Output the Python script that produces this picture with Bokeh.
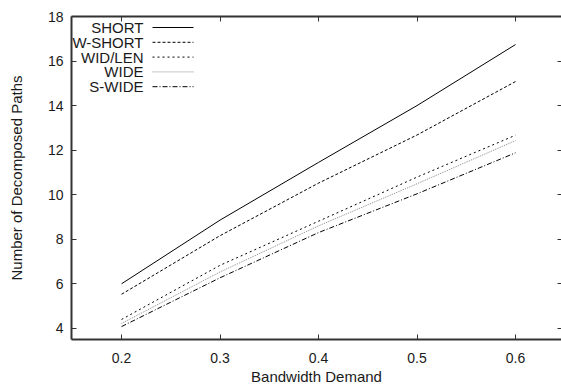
from bokeh.plotting import figure
from bokeh.models import LinearAxis, Label, Arrow, Range1d, FixedTicker, CustomJSTickFormatter
from bokeh.embed import file_html
from bokeh.resources import INLINE

# ---- data ----
bandwidth = [0.2, 0.3, 0.4, 0.5, 0.6]
short = [6.0, 8.86, 11.45, 14.0, 16.74]
w_short = [5.53, 8.16, 10.52, 12.68, 15.08]
wid_len = [4.4, 6.83, 8.81, 10.79, 12.67]
wide = [4.22, 6.53, 8.6, 10.49, 12.43]
s_wide = [4.08, 6.27, 8.30, 10.04, 11.88]

series_names = ["SHORT", "W-SHORT", "WID/LEN", "WIDE", "S-WIDE"]
x_ticks = [0.2, 0.3, 0.4, 0.5, 0.6]
y_ticks = [4, 6, 8, 10, 12, 14, 16, 18]

FONT = "Liberation Sans"
TXT = "#1a1a1a"

p = figure(width=561, height=387, output_backend="svg", toolbar_location=None,
           x_range=Range1d(0.1492, 0.6467), y_range=Range1d(3.5, 18.0),
           min_border_left=71, min_border_right=0, min_border_top=16, min_border_bottom=45,
           x_axis_label="Bandwidth Demand", y_axis_label="Number of Decomposed Paths")
p.outline_line_color = None
p.grid.visible = False
p.background_fill_color = "white"
p.border_fill_color = "white"

for ax in (p.xaxis[0], p.yaxis[0]):
    ax.axis_line_width = 2
    ax.axis_line_color = "#333333"
    ax.major_tick_in = 5
    ax.major_tick_out = 0
    ax.minor_tick_in = 0
    ax.minor_tick_out = 0
    ax.major_tick_line_color = "#333333"
    ax.major_label_text_font = FONT
    ax.major_label_text_font_size = "14px"
    ax.major_label_text_color = TXT
    ax.axis_label_text_font = FONT
    ax.axis_label_text_font_size = "15px"
    ax.axis_label_text_font_style = "normal"
    ax.axis_label_text_color = TXT

p.xaxis.ticker = FixedTicker(ticks=x_ticks)
p.yaxis.ticker = FixedTicker(ticks=y_ticks)
p.xaxis.major_label_standoff = 13
p.xaxis.axis_label_standoff = 2
p.yaxis.major_label_standoff = 8
p.yaxis.axis_label_standoff = 20

blank = CustomJSTickFormatter(code="return '';")
top = LinearAxis(ticker=FixedTicker(ticks=x_ticks), axis_line_width=2, axis_line_color="#333333",
                 major_tick_in=5, major_tick_out=0, minor_tick_in=0, minor_tick_out=0,
                 formatter=blank, major_label_standoff=0,
                 major_tick_line_color="#333333")
p.add_layout(top, "above")
right = LinearAxis(ticker=FixedTicker(ticks=y_ticks), axis_line_color=None,
                   major_tick_in=4, major_tick_out=0, minor_tick_in=0, minor_tick_out=0,
                   formatter=CustomJSTickFormatter(code="return '';"), major_label_standoff=0,
                   major_tick_line_color="#333333")
p.add_layout(right, "right")

styles = [
    (short, "black", None),
    (w_short, "black", "3 2"),
    (wid_len, "black", "2 3"),
    (wide, "#8a8a8a", "1 1"),
    (s_wide, "black", "5 2 1 2"),
]

for i, (ys, col, dash) in enumerate(styles):
    kw = {}
    if dash:
        kw["line_dash"] = dash
    p.line(bandwidth, ys, line_color=col, line_width=1, **kw)
    # legend entry (label left, sample right) in screen units
    yy = 312 - i * 14.8
    p.add_layout(Label(x=72, y=yy, x_units="screen", y_units="screen", text=series_names[i],
                       text_align="right", text_baseline="middle", text_font=FONT,
                       text_font_size="15px", text_color=TXT))
    p.add_layout(Arrow(x_start=81, y_start=yy, x_end=122, y_end=yy,
                       start_units="screen", end_units="screen", end=None, start=None,
                       line_color=col, line_width=1, line_dash=dash if dash else "solid"))

open("out.html", "w").write(file_html(p, INLINE))
